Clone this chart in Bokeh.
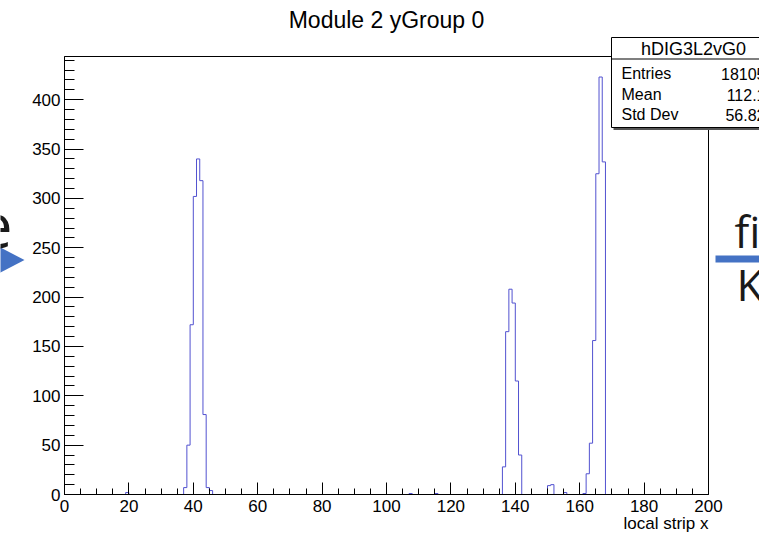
from bokeh.plotting import figure
from bokeh.models import (FixedTicker, Label, BoxAnnotation, PolyAnnotation, Range1d,
                          ColumnDataSource)
from bokeh.embed import file_html
from bokeh.resources import INLINE

# ---- data ---------------------------------------------------------------
title_text = "Module 2 yGroup 0"
x_label = "local strip x"
hist_name = "hDIG3L2vG0"
stat_names = ["Entries", "Mean", "Std Dev"]
stat_values = ["18105", "112.1", "56.82"]

bin_edges = list(range(0, 201))          # 200 bins, width 1
counts = [
    0, 0, 0, 0, 0, 0, 0, 0, 0, 0, 0, 0, 0, 0, 0, 0, 0, 0, 0, 2,          # 0-19
    0, 0, 0, 0, 0, 0, 0, 0, 0, 0, 0, 0, 0, 0, 0, 0, 0, 7, 50, 172,       # 20-39
    302, 340, 318, 81, 7, 4, 0, 0, 0, 0, 0, 0, 0, 0, 0, 0, 0, 0, 0, 0,   # 40-59
    0, 0, 0, 0, 0, 0, 0, 0, 0, 0, 0, 0, 0, 0, 0, 0, 0, 0, 0, 0,          # 60-79
    0, 0, 0, 0, 0, 0, 0, 0, 0, 0, 0, 0, 0, 0, 0, 0, 0, 0, 0, 0,          # 80-99
    0, 0, 0, 0, 0, 0, 0, 1, 0, 0, 0, 0, 0, 0, 0, 1, 0, 0, 0, 0,          # 100-119
    0, 0, 0, 0, 0, 0, 0, 0, 0, 0, 0, 0, 0, 0, 0, 0, 28, 165, 208, 194,   # 120-139
    115, 40, 0, 0, 0, 0, 0, 0, 0, 0, 9, 10, 0, 0, 0, 2, 0, 0, 0, 0,      # 140-159
    0, 1, 21, 52, 156, 325, 423, 337, 0, 0, 0, 0, 0, 0, 0, 0, 0, 0, 0, 0,  # 160-179
    0, 0, 0, 0, 0, 0, 0, 0, 0, 0, 0, 0, 0, 0, 0, 0, 0, 0, 0, 0,          # 180-199
]
x_min, x_max = 0, 200
y_min, y_max = 0, 443.8
x_major = [0, 20, 40, 60, 80, 100, 120, 140, 160, 180, 200]
y_major = [0, 50, 100, 150, 200, 250, 300, 350, 400]

# ---- geometry: the frame fills the canvas; the ROOT pad sits inside it -----
W, H = 759, 535
FL, FR, FT, FB = 64, 708, 56, 494   # ROOT frame edges on the canvas (px)
kx = (FR - FL) / (x_max - x_min)
ky = (FB - FT) / (y_max - y_min)
FONT = "Liberation Sans"

p = figure(width=W, height=H, output_backend="svg", toolbar_location=None,
           title_location=None,
           x_range=Range1d(x_min - FL / kx, x_max + (W - FR) / kx),
           y_range=Range1d(y_min - (H - FB) / ky, y_max + FT / ky),
           min_border_left=0, min_border_right=0, min_border_top=0, min_border_bottom=0,
           background_fill_color="white", border_fill_color="white")
p.xgrid.visible = False
p.ygrid.visible = False
p.outline_line_color = None

xa = p.xaxis[0]
ya = p.yaxis[0]
xa.fixed_location = 0
ya.fixed_location = 0
xa.bounds = (x_min, x_max)
ya.bounds = (y_min, y_max)
xa.ticker = FixedTicker(ticks=x_major, minor_ticks=list(range(0, 201, 5)))
ya.ticker = FixedTicker(ticks=y_major, minor_ticks=list(range(0, 441, 10)))
for ax in (xa, ya):
    ax.axis_line_color = "black"
    ax.major_tick_line_color = "black"
    ax.minor_tick_line_color = "black"
    ax.major_tick_out = 0
    ax.minor_tick_out = 0
    ax.major_label_text_font = FONT
    ax.major_label_text_font_size = "17px"
    ax.major_label_text_color = "black"
xa.major_tick_in = 12
xa.minor_tick_in = 6
ya.major_tick_in = 19
ya.minor_tick_in = 10
xa.major_label_standoff = 5
ya.major_label_standoff = 4

# ROOT frame box
p.add_layout(BoxAnnotation(left=x_min, right=x_max, bottom=y_min, top=y_max,
                           fill_alpha=0, line_color="black", line_alpha=1,
                           line_width=1, level="underlay"))

# histogram outline
src = ColumnDataSource(dict(x=bin_edges, y=counts + [counts[-1]]))
p.step("x", "y", source=src, mode="after", line_color="#5252d0", line_width=1)

# ---- texts and boxes placed in canvas pixels -------------------------------
def sx(cx):
    return cx

def sy(cy):
    return H - cy

def scr_label(cx, cy, text, size, align="left", baseline="middle", font=FONT, color="black"):
    p.add_layout(Label(x=sx(cx), y=sy(cy), x_units="screen", y_units="screen",
                       text=text, text_align=align, text_baseline=baseline,
                       text_font=font, text_font_size=size, text_color=color,
                       level="overlay"))

def scr_box(l, r, t, b, fill, line=None):
    p.add_layout(BoxAnnotation(left=sx(l), right=sx(r), top=sy(t), bottom=sy(b),
                               left_units="screen", right_units="screen",
                               top_units="screen", bottom_units="screen",
                               fill_color=fill, fill_alpha=1,
                               line_color=line if line else fill,
                               line_alpha=1 if line else 0, line_width=1, level="overlay"))

# title and x-axis title
scr_label((FL + FR) / 2, 19, title_text, "23px", align="center")
scr_label(FR, 523, x_label, "17px", align="right")

# stats box with shadow
scr_box(613, 800, 39, 129.5, "#555555")
scr_box(611, 800, 37, 127, "white", "black")
scr_box(611, 800, 58, 59, "black")
scr_label(693, 48, hist_name, "18px", align="center")
for name, val, cy in zip(stat_names, stat_values, [73, 94, 114]):
    scr_label(621, cy, name, "16px", align="left")
    scr_label(765, cy, val, "16px", align="right")

# ---- slide fragments around the screenshot --------------------------------
scr_label(12, 225, "e", "62px", align="right", baseline="alphabetic",
          font="Open Sans", color="#1a1a1a")
p.add_layout(PolyAnnotation(xs=[sx(-6), sx(24), sx(-6)], ys=[sy(244), sy(259.5), sy(275)],
                            xs_units="screen", ys_units="screen",
                            fill_color="#4472C4", fill_alpha=1, line_alpha=0))
scr_label(734, 230, "fi", "44px", align="left", baseline="alphabetic",
          font="Open Sans", color="#1a1a1a")
scr_box(715, 800, 255, 262, "#4472C4")
scr_label(736, 283, "K", "44px", align="left", baseline="alphabetic",
          font="Open Sans", color="#1a1a1a")

open("out.html", "w").write(file_html(p, INLINE))
